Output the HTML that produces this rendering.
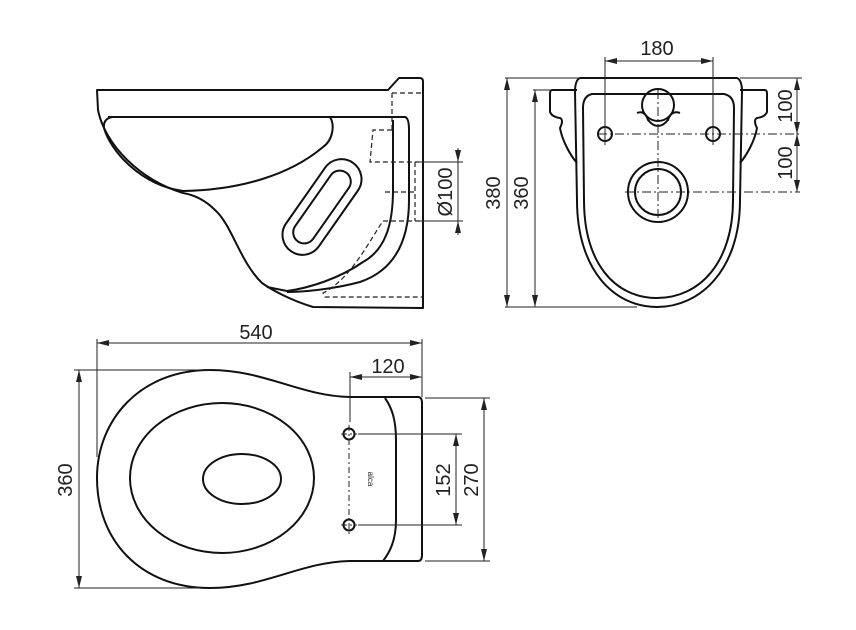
<!DOCTYPE html>
<html><head><meta charset="utf-8"><style>
html,body{margin:0;padding:0;background:#fff;}
svg{display:block;}
text{font-family:"Liberation Sans",sans-serif;font-size:20px;fill:#222;}
</style></head><body>
<svg width="856" height="630" viewBox="0 0 856 630" xmlns="http://www.w3.org/2000/svg">
<defs>
<marker id="a" viewBox="0 0 12 6" refX="12" refY="3" markerWidth="12" markerHeight="6" orient="auto-start-reverse" markerUnits="userSpaceOnUse">
<path d="M0,0 L12,3 L0,6 Z" fill="#222"/></marker>
</defs>
<g fill="none" stroke="#111" stroke-width="2" stroke-linejoin="round">
<!-- SIDE VIEW -->
<path d="M97,90 L388,90 L399,78 L420,78 Q423,78 423,82 L423,308 L313,307 C290,300 272,290 262,283 C240,262 232,225 215,210 C205,200 195,195 183,193 C140,180 105,145 98,110 Z"/>
<path d="M108,117 L405,117 Q409,118 409,130 L409,200 C409,240 395,270 360,282 C330,290 300,292 287,292"/>
<path d="M330,117 C335,125 333,140 323,147 C290,175 240,190 183,191 C140,185 110,150 104,128 Q103,119 112,117"/>
<path d="M393,120 L393,190 C393,225 385,250 363,262 C340,278 310,288 287,291 L267,287"/>
<rect x="268" y="187" width="108" height="40" rx="20" transform="rotate(-55 322 207)"/>
<rect x="280" y="196" width="84" height="22" rx="11" transform="rotate(-55 322 207)"/>
</g>
<g fill="none" stroke="#222" stroke-width="1.2" stroke-dasharray="5,3">
<path d="M392,93 L392,130 M392,93 L423,93 M392,130 L373,130 L370,162 L420,162 M415,162 L415,221 M385,192 L415,192 M420,221 L383,221 C370,240 350,280 323,293 L325,297 L423,297"/>
</g>
<g stroke="#222" stroke-width="1" fill="none">
<path d="M420,162 L463,162 M420,221 L463,221"/>
<path d="M458,148 L458,162" marker-end="url(#a)"/>
<path d="M458,235 L458,221" marker-end="url(#a)"/>
<path d="M458,162 L458,221"/>
</g>
<text transform="translate(452,192) rotate(-90)" text-anchor="middle">Ø100</text>

<!-- FRONT VIEW -->
<g fill="none" stroke="#111" stroke-width="2">
<path d="M580,78 L737,78 Q742,80 742,92 L740,200 C740,270 700,307 657,307 C614,307 577,270 577,200 L575,92 Q575,80 580,78 Z"/>
<path d="M592,94 L724,94 Q734,96 734,108 L733,200 C733,262 700,298 657,298 C614,298 584,262 584,200 L583,108 Q583,96 592,94 Z"/>
<path d="M577,90 L552,90 Q550,90 550,94 L550,112 Q552,117 560,118 Q564,120 560,128 C562,140 570,155 577,163"/>
<path d="M740,90 L765,90 Q767,90 767,94 L767,112 Q765,117 757,118 Q753,120 757,128 C755,140 747,155 740,163"/>
<circle cx="605" cy="134" r="7"/><circle cx="713" cy="134" r="7"/>
<circle cx="658" cy="105" r="16"/>
<path d="M637,113 Q645,110 648,120 Q658,132 668,120 Q671,110 680,113"/>
<circle cx="658" cy="192" r="30"/><circle cx="658" cy="192" r="23"/>
</g>
<g stroke="#222" stroke-width="1" fill="none">
<path d="M598,134 L800,134 M658,90 L658,225 M625,192 L800,192" stroke-dasharray="9,3,2,3"/>
<path d="M605,57 L605,145 M713,57 L713,145 M740,78 L802,78 M505,78 L580,78 M533,90 L550,90 M505,307 L637,307"/>
<path d="M620,61 L605,61" marker-end="url(#a)"/><path d="M698,61 L713,61" marker-end="url(#a)"/><path d="M620,61 L698,61"/>
<path d="M797,90 L797,78" marker-end="url(#a)"/><path d="M797,122 L797,134" marker-end="url(#a)"/><path d="M797,90 L797,122"/>
<path d="M797,146 L797,134" marker-end="url(#a)"/><path d="M797,180 L797,192" marker-end="url(#a)"/><path d="M797,146 L797,180"/>
<path d="M507,92 L507,78" marker-end="url(#a)"/><path d="M507,293 L507,307" marker-end="url(#a)"/><path d="M507,92 L507,293"/>
<path d="M535,104 L535,90" marker-end="url(#a)"/><path d="M535,293 L535,307" marker-end="url(#a)"/><path d="M535,104 L535,293"/>
</g>
<text x="657" y="55" text-anchor="middle">180</text>
<text transform="translate(792,106) rotate(-90)" text-anchor="middle">100</text>
<text transform="translate(792,163) rotate(-90)" text-anchor="middle">100</text>
<text transform="translate(500,193) rotate(-90)" text-anchor="middle">380</text>
<text transform="translate(528,193) rotate(-90)" text-anchor="middle">360</text>

<!-- TOP VIEW -->
<g fill="none" stroke="#111" stroke-width="2">
<path d="M418,397 L350,397 C300,396 265,370 210,370 C140,370 97,420 97,478 C97,540 140,588 210,588 C265,588 300,562 350,561 L418,561 Q422,561 422,555 L422,403 Q422,397 418,397 Z"/>
<path d="M385,398 C392,408 396,420 396,440 L396,520 C396,540 390,552 383,561"/>
<ellipse cx="222" cy="478" rx="92" ry="75"/>
<ellipse cx="242" cy="479" rx="39" ry="25"/>
<circle cx="349" cy="434" r="5.5"/><circle cx="349" cy="525" r="5.5"/>
</g>
<text transform="translate(368,479) rotate(90)" text-anchor="middle" style="font-size:8px">alca</text>
<g stroke="#222" stroke-width="1" fill="none">
<path d="M349,425 L349,534 M341,434 L357,434 M341,525 L357,525" stroke-dasharray="6,3,2,3"/>
<path d="M97,339 L97,457 M422,339 L422,397 M350,372 L350,422 M358,434 L462,434 M358,525 L462,525 M425,398 L490,398 M425,561 L490,561 M74,370 L210,370 M74,588 L200,588"/>
<path d="M111,343 L97,343" marker-end="url(#a)"/><path d="M408,343 L422,343" marker-end="url(#a)"/><path d="M111,343 L408,343"/>
<path d="M364,377 L350,377" marker-end="url(#a)"/><path d="M408,377 L422,377" marker-end="url(#a)"/><path d="M364,377 L408,377"/>
<path d="M456,448 L456,434" marker-end="url(#a)"/><path d="M456,511 L456,525" marker-end="url(#a)"/><path d="M456,448 L456,511"/>
<path d="M484,412 L484,398" marker-end="url(#a)"/><path d="M484,547 L484,561" marker-end="url(#a)"/><path d="M484,412 L484,547"/>
<path d="M79,384 L79,370" marker-end="url(#a)"/><path d="M79,574 L79,588" marker-end="url(#a)"/><path d="M79,384 L79,574"/>
</g>
<text x="256" y="339" text-anchor="middle">540</text>
<text x="388" y="373" text-anchor="middle">120</text>
<text transform="translate(450,480) rotate(-90)" text-anchor="middle">152</text>
<text transform="translate(478,480) rotate(-90)" text-anchor="middle">270</text>
<text transform="translate(72,480) rotate(-90)" text-anchor="middle">360</text>
</svg>
</body></html>
